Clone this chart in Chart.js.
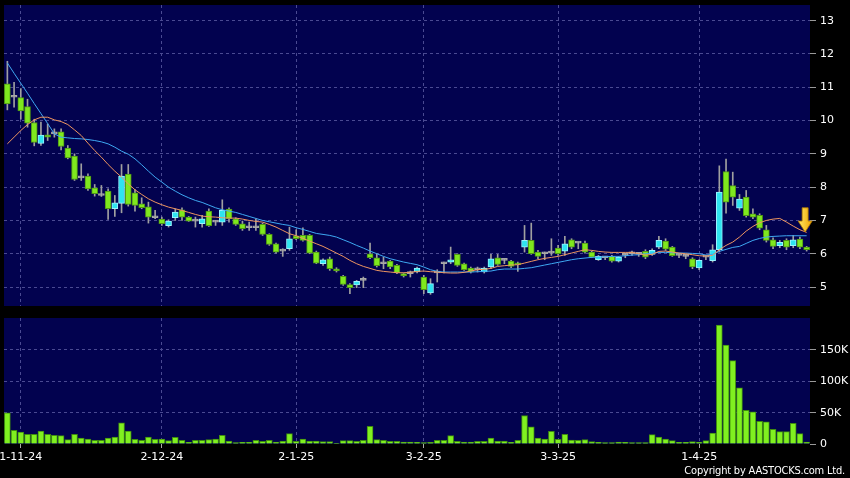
<!DOCTYPE html>
<html>
<head>
<meta charset="utf-8">
<script src="https://cdn.jsdelivr.net/npm/chart.js@4.4.1/dist/chart.umd.min.js"></script>
<style>
  html, body { margin: 0; padding: 0; background: #000; width: 850px; height: 478px; overflow: hidden; position: relative; }
  canvas { position: absolute; left: -30px; }
  #priceChart { top: 0; }
  #volChart { top: 312px; }
  #copy { position: absolute; right: 5px; top: 464px; color: #fff; font: 11px "DejaVu Sans Condensed", "DejaVu Sans"; line-height: 13px; letter-spacing: -0.2px; }
</style>
</head>
<body>
<canvas id="priceChart" width="880" height="312"></canvas>
<canvas id="volChart" width="880" height="166"></canvas>
<div id="copy">Copyright by AASTOCKS.com Ltd.</div>
<script>
// daily candles, 30-10-24 .. 28-4-25
var opens = [11.1, 10.7, 10.69, 10.42, 9.94, 9.31, 9.57, 9.6, 9.66, 9.17,
  8.93, 8.28, 8.33, 7.98, 7.75, 7.88, 7.35, 7.51, 8.39, 7.83,
  7.5, 7.41, 7.08, 7.04, 6.84, 7.08, 7.32, 7.1, 6.98, 6.9,
  7.28, 6.95, 6.95, 7.34, 7.05, 6.9, 6.78, 6.78, 6.88, 6.58,
  6.3, 6.08, 6.15, 6.54, 6.55, 6.55, 6.05, 5.7, 5.85, 5.55,
  5.32, 5.07, 5.06, 5.2, 6.0, 5.88, 5.7, 5.78, 5.65, 5.4,
  5.4, 5.45, 5.3, 4.82, 5.42, 5.7, 5.75, 5.98, 5.7, 5.57,
  5.52, 5.45, 5.6, 5.88, 5.8, 5.78, 5.73, 6.2, 6.4, 6.05,
  6.0, 6.02, 6.17, 6.08, 6.42, 6.32, 6.32, 6.05, 5.82, 5.88,
  5.92, 5.78, 5.95, 6.0, 5.98, 6.07, 5.98, 6.2, 6.38, 6.2,
  5.95, 5.92, 5.85, 5.57, 5.9, 5.79, 6.12, 8.47, 8.05, 7.37,
  7.7, 7.2, 7.15, 6.72, 6.42, 6.24, 6.4, 6.24, 6.44, 6.2];
var highs = [11.78, 11.15, 10.96, 10.64, 10.04, 9.95, 9.9, 9.75, 9.75, 9.25,
  9.0, 8.7, 8.4, 8.08, 8.05, 7.95, 7.75, 8.68, 8.68, 7.93,
  7.68, 7.55, 7.3, 7.1, 7.02, 7.35, 7.38, 7.12, 7.1, 7.15,
  7.35, 7.0, 7.62, 7.38, 7.08, 6.98, 6.95, 7.05, 6.92, 6.6,
  6.32, 6.15, 6.8, 6.72, 6.78, 6.58, 6.08, 5.85, 5.9, 5.58,
  5.35, 5.1, 5.2, 5.3, 6.32, 6.0, 5.9, 5.8, 5.68, 5.42,
  5.48, 5.6, 5.35, 5.25, 5.52, 5.75, 6.2, 6.0, 5.72, 5.6,
  5.6, 5.6, 5.98, 5.98, 5.85, 5.8, 5.75, 6.85, 6.92, 6.1,
  6.05, 6.45, 6.25, 6.52, 6.45, 6.35, 6.38, 6.08, 5.95, 5.92,
  5.95, 5.92, 6.0, 6.08, 6.02, 6.12, 6.15, 6.52, 6.45, 6.22,
  6.0, 5.98, 5.88, 5.82, 5.95, 6.27, 8.64, 8.84, 8.45, 7.78,
  7.9, 7.35, 7.2, 6.85, 6.48, 6.4, 6.45, 6.55, 6.5, 6.22];
var lows = [10.32, 10.4, 10.04, 9.8, 9.24, 9.25, 9.4, 9.5, 9.12, 8.85,
  8.2, 8.2, 7.9, 7.73, 7.72, 7.03, 7.12, 7.23, 7.43, 7.28,
  7.35, 6.92, 7.05, 6.85, 6.8, 7.0, 7.0, 6.97, 6.8, 6.8,
  6.82, 6.85, 6.85, 6.95, 6.85, 6.7, 6.7, 6.7, 6.55, 6.25,
  6.02, 5.92, 6.1, 6.42, 6.38, 6.0, 5.7, 5.65, 5.5, 5.45,
  5.05, 4.8, 4.98, 4.98, 5.85, 5.6, 5.55, 5.55, 5.4, 5.3,
  5.3, 5.42, 4.8, 4.78, 5.15, 5.42, 5.7, 5.62, 5.5, 5.42,
  5.45, 5.42, 5.55, 5.65, 5.7, 5.58, 5.47, 6.05, 5.98, 5.85,
  5.82, 5.95, 5.95, 5.95, 6.15, 6.15, 6.02, 5.88, 5.8, 5.82,
  5.75, 5.75, 5.88, 5.95, 5.92, 5.85, 5.95, 6.15, 6.1, 5.92,
  5.88, 5.85, 5.55, 5.52, 5.82, 5.75, 6.05, 7.22, 7.45, 7.3,
  7.1, 7.05, 6.72, 6.35, 6.15, 6.18, 6.12, 6.18, 6.15, 6.08];
var closes = [10.5, 10.7, 10.29, 9.92, 9.34, 9.56, 9.5, 9.6, 9.22, 8.88,
  8.23, 8.28, 7.95, 7.8, 7.75, 7.35, 7.53, 8.33, 7.48, 7.45,
  7.38, 7.1, 7.08, 6.9, 6.98, 7.25, 7.1, 6.98, 6.98, 7.05,
  6.84, 6.95, 7.3, 7.05, 6.88, 6.75, 6.78, 6.78, 6.58, 6.28,
  6.05, 6.08, 6.45, 6.45, 6.4, 6.02, 5.72, 5.82, 5.55, 5.48,
  5.08, 4.98, 5.17, 5.2, 5.88, 5.64, 5.7, 5.6, 5.42, 5.33,
  5.4, 5.57, 4.92, 5.1, 5.42, 5.7, 5.82, 5.65, 5.52, 5.45,
  5.52, 5.57, 5.85, 5.68, 5.8, 5.62, 5.67, 6.4, 6.0, 5.92,
  6.0, 6.02, 6.0, 6.3, 6.2, 6.32, 6.05, 5.9, 5.92, 5.88,
  5.78, 5.9, 5.95, 6.0, 5.98, 5.9, 6.1, 6.4, 6.14, 5.94,
  5.95, 5.92, 5.6, 5.8, 5.9, 6.12, 7.85, 7.55, 7.7, 7.64,
  7.14, 7.1, 6.77, 6.4, 6.22, 6.34, 6.2, 6.42, 6.2, 6.12];
// moving averages as drawn (orange / blue)
var ma10 = [9.3, 9.5, 9.7, 9.88, 10.02, 10.1, 10.1, 10.02, 9.97, 9.88,
  9.72, 9.55, 9.32, 9.1, 8.9, 8.68, 8.48, 8.3, 8.1, 7.92,
  7.78, 7.65, 7.55, 7.47, 7.4, 7.35, 7.3, 7.24, 7.18, 7.13,
  7.11, 7.1, 7.08, 7.07, 7.07, 7.04, 7.0, 6.97, 6.95, 6.88,
  6.8, 6.7, 6.6, 6.54, 6.46, 6.38, 6.3, 6.22, 6.12, 6.02,
  5.92, 5.8, 5.7, 5.62, 5.56, 5.5, 5.47, 5.45, 5.43, 5.43,
  5.44, 5.47, 5.48, 5.46, 5.45, 5.43, 5.42, 5.42, 5.44, 5.48,
  5.52, 5.53, 5.56, 5.62, 5.64, 5.66, 5.67, 5.72, 5.77, 5.82,
  5.86, 5.89, 5.92, 5.97, 6.02, 6.07, 6.12, 6.1, 6.07, 6.05,
  6.04, 6.04, 6.04, 6.04, 6.0, 5.96, 5.98, 6.07, 6.08, 6.05,
  6.02, 6.0, 5.97, 5.94, 5.93, 5.95, 6.12, 6.25, 6.35, 6.5,
  6.68, 6.82, 6.93, 7.0, 7.04, 7.06, 6.95, 6.83, 6.72, 6.64];
var ma20 = [11.73, 11.42, 11.12, 10.82, 10.51, 10.21, 9.91, 9.6, 9.5, 9.48,
  9.46, 9.45, 9.43, 9.4, 9.36, 9.3, 9.2, 9.08, 8.99, 8.85,
  8.67, 8.48, 8.3, 8.15, 8.0, 7.88, 7.77, 7.68, 7.6, 7.54,
  7.46, 7.38, 7.32, 7.28, 7.24, 7.18, 7.12, 7.06, 7.0, 6.96,
  6.92, 6.88, 6.85, 6.78, 6.73, 6.67, 6.61, 6.58, 6.55, 6.5,
  6.42, 6.34, 6.25, 6.17, 6.08, 6.0, 5.92, 5.85, 5.8, 5.75,
  5.71, 5.67, 5.6, 5.52, 5.47, 5.45, 5.45, 5.45, 5.45, 5.45,
  5.46, 5.47, 5.48, 5.52, 5.54, 5.54, 5.54, 5.56, 5.58, 5.62,
  5.66, 5.7, 5.74, 5.78, 5.82, 5.85, 5.87, 5.89, 5.9, 5.91,
  5.92, 5.92, 5.94, 5.96, 5.97, 6.0, 6.02, 6.04, 6.04, 6.03,
  6.02, 6.02, 6.01, 6.0, 5.96, 5.98, 6.07, 6.13, 6.19, 6.22,
  6.31, 6.4, 6.46, 6.5, 6.52, 6.53, 6.54, 6.54, 6.54, 6.54];
// volume in thousands of shares
var volumes = [49.7, 21.9, 19.2, 15.5, 15.5, 20.8, 15.5, 13.9, 13.3, 7,
  15.5, 9.6, 8, 5.9, 5.9, 9.6, 11.2, 33.6, 20.8, 7.5,
  5.9, 11.2, 7.5, 8, 5.3, 10.7, 5.9, 2.7, 5.9, 5.9,
  7, 8, 13.9, 4.8, 2.1, 2.7, 2.7, 5.9, 4.3, 5.9,
  3.2, 4.8, 16.6, 4.3, 8, 4.8, 4.8, 3.7, 3.7, 1,
  5.3, 5.3, 4.3, 5.9, 28.3, 7, 5.9, 4.3, 4.3, 3.2,
  3.2, 2.7, 2.1, 2.5, 5.9, 5.9, 13.3, 4.3, 3.2, 3.2,
  4.3, 4.3, 9.6, 4.8, 4.8, 2.7, 5.9, 45.4, 27.2, 9.6,
  8, 20.3, 7.5, 15.5, 6.4, 5.9, 7, 3.7, 2.7, 2.1,
  2.1, 3.2, 2.7, 2.1, 2.1, 2.1, 15, 11.2, 8, 5.3,
  2.7, 2.7, 3.7, 3.2, 5.3, 17.6, 189.6, 158, 133, 89.7,
  53.9, 51.3, 36.3, 35.2, 23.5, 19.8, 19.8, 33.1, 16.6, 3.2];

var tickIdx = [2, 23, 43, 62, 82, 103];
var tickLabels = ["1-11-24", "2-12-24", "2-1-25", "3-2-25", "3-3-25", "1-4-25"];
var priceTicks = [5, 6, 7, 8, 9, 10, 11, 12, 13];
var volTicks = [0, 50, 100, 150];
var arrowIdx = 119, arrowTop = 7.38, arrowTip = 6.65;

Chart.defaults.animation = false;
Chart.defaults.font.family = "DejaVu Sans";
Chart.defaults.font.size = 11;

var gridColor = "#4a4a92";
var navy = "#02024f";
var days = opens.map(function (v, i) { return i; });

var plotBg = {
  id: "plotBg",
  beforeDraw: function (chart) {
    var a = chart.chartArea, ctx = chart.ctx;
    ctx.save();
    ctx.fillStyle = navy;
    ctx.fillRect(a.left, a.top, a.right - a.left, a.bottom - a.top);
    ctx.restore();
  },
};

var arrow = {
  id: "arrow",
  afterDatasetsDraw: function (chart) {
    var ctx = chart.ctx;
    var x = chart.scales.x.getPixelForValue(arrowIdx) - 1.5;
    var y0 = chart.scales.y.getPixelForValue(arrowTop);
    var y1 = chart.scales.y.getPixelForValue(arrowTip);
    var neck = y1 - 11;
    var g = ctx.createLinearGradient(x - 7, 0, x + 7, 0);
    g.addColorStop(0, "#ffe866");
    g.addColorStop(1, "#f0a400");
    ctx.save();
    ctx.beginPath();
    ctx.moveTo(x - 3, y0);
    ctx.lineTo(x + 3, y0);
    ctx.lineTo(x + 3, neck);
    ctx.lineTo(x + 7, neck);
    ctx.lineTo(x, y1);
    ctx.lineTo(x - 7, neck);
    ctx.lineTo(x - 3, neck);
    ctx.closePath();
    ctx.fillStyle = g;
    ctx.fill();
    ctx.strokeStyle = "#b07800";
    ctx.lineWidth = 0.8;
    ctx.stroke();
    ctx.restore();
  },
};

function bodyColor(i, up, down, flat) {
  if (closes[i] > opens[i]) return up;
  if (closes[i] < opens[i]) return down;
  return flat;
}

// no automatic label padding: plot areas are placed by layout padding only
function noPad(ax) {
  ax.paddingTop = 0;
  ax.paddingBottom = 0;
  ax.paddingLeft = 0;
  ax.paddingRight = 0;
}

function xAxis(showLabels) {
  return {
    type: "category",
    offset: true,
    grid: { offset: false, color: gridColor, drawTicks: showLabels, tickLength: 4, tickColor: "#aaaaaa" },
    border: { display: false, dash: [3, 3] },
    ticks: {
      display: showLabels,
      color: "#ffffff",
      maxRotation: 0,
      autoSkip: false,
      padding: 3,
      callback: function (v) { return tickLabels[tickIdx.indexOf(v)]; },
    },
    afterBuildTicks: function (ax) { ax.ticks = tickIdx.map(function (v) { return { value: v }; }); },
    afterFit: function (ax) { ax.height = showLabels ? 34 : 0; noPad(ax); },
  };
}

new Chart("priceChart", {
  type: "bar",
  data: {
    labels: days,
    datasets: [
      {
        type: "line",
        data: ma10,
        borderColor: "#ee9560",
        borderWidth: 1,
        pointRadius: 0,
        order: 1,
      },
      {
        type: "line",
        data: ma20,
        borderColor: "#3ea8f2",
        borderWidth: 1,
        pointRadius: 0,
        order: 1,
      },
      {
        data: opens.map(function (o, i) { return [o, closes[i]]; }),
        backgroundColor: days.map(function (i) { return bodyColor(i, "#2ee4f0", "#7fe81e", "#a8a8a8"); }),
        borderColor: days.map(function (i) { return bodyColor(i, "#9af4ff", "#4e9614", "#a8a8a8"); }),
        borderWidth: 1,
        borderSkipped: false,
        barThickness: 6,
        minBarLength: 2,
        grouped: false,
        order: 2,
      },
      {
        data: lows.map(function (l, i) { return [l, highs[i]]; }),
        backgroundColor: "#a0a0a0",
        barThickness: 1,
        grouped: false,
        order: 3,
      },
    ],
  },
  options: {
    responsive: false,
    layout: { padding: { left: 34, top: 5, right: 0, bottom: 6 } },
    plugins: { legend: { display: false }, tooltip: { enabled: false } },
    scales: {
      x: xAxis(false),
      y: {
        position: "right",
        min: 4.43,
        max: 13.47,
        grid: { color: gridColor, tickColor: "#999999", tickLength: 6 },
        border: { display: false, dash: [3, 3] },
        ticks: { color: "#ffffff", padding: 4 },
        afterBuildTicks: function (ax) { ax.ticks = priceTicks.map(function (v) { return { value: v }; }); },
        afterFit: function (ax) { ax.width = 40; noPad(ax); },
      },
    },
  },
  plugins: [plotBg, arrow],
});

new Chart("volChart", {
  type: "bar",
  data: {
    labels: days,
    datasets: [
      {
        data: volumes,
        backgroundColor: "#80f020",
        borderColor: "#3f8c10",
        borderWidth: 1,
        barThickness: 6,
      },
    ],
  },
  options: {
    responsive: false,
    layout: { padding: { left: 34, top: 6, right: 0, bottom: 0 } },
    plugins: { legend: { display: false }, tooltip: { enabled: false } },
    scales: {
      x: xAxis(true),
      y: {
        position: "right",
        min: 0,
        max: 201,
        grid: {
          color: function (c) { return c.tick && c.tick.value === 0 ? "rgba(0,0,0,0)" : gridColor; },
          tickColor: "#999999",
          tickLength: 6,
        },
        border: { display: false, dash: [3, 3] },
        ticks: {
          color: "#ffffff",
          padding: 4,
          callback: function (v) { return v === 0 ? "0" : v + "K"; },
        },
        afterBuildTicks: function (ax) { ax.ticks = volTicks.map(function (v) { return { value: v }; }); },
        afterFit: function (ax) { ax.width = 40; noPad(ax); },
      },
    },
  },
  plugins: [plotBg],
});
</script>
</body>
</html>
